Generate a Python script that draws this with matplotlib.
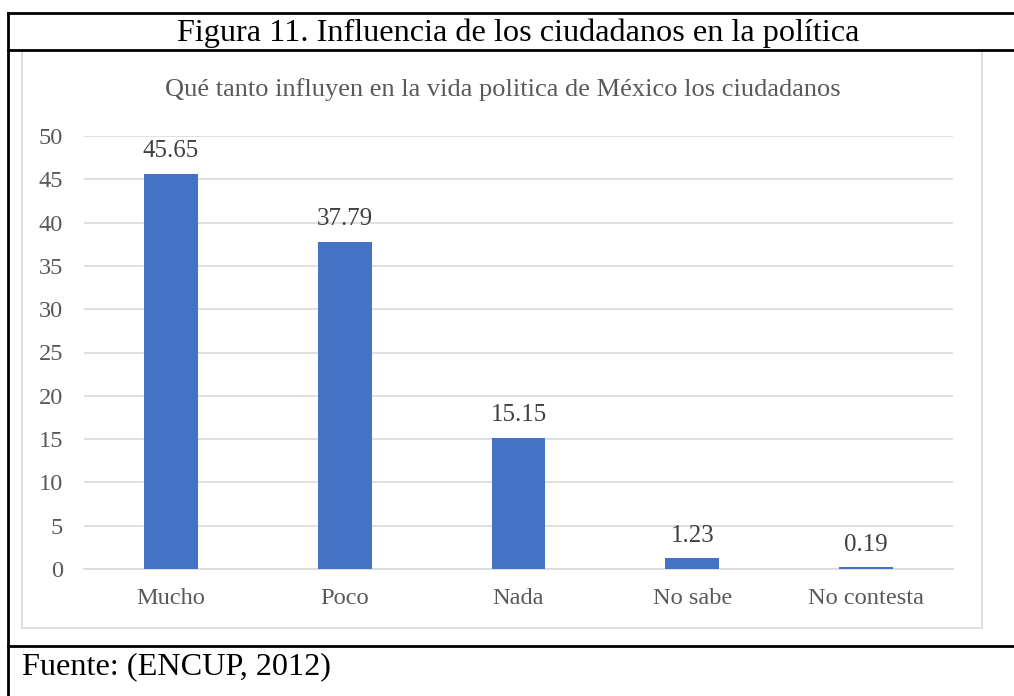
import matplotlib
matplotlib.use("Agg")
import matplotlib.pyplot as plt
from matplotlib.lines import Line2D
from matplotlib.patches import Rectangle

categories = ["Mucho", "Poco", "Nada", "No sabe", "No contesta"]
values = [45.65, 37.79, 15.15, 1.23, 0.19]
value_labels = ["45.65", "37.79", "15.15", "1.23", "0.19"]
yticks = [0, 5, 10, 15, 20, 25, 30, 35, 40, 45, 50]

W, H = 1014, 696
plt.rcParams['font.family'] = ['Liberation Serif', 'DejaVu Serif']
fig = plt.figure(figsize=(W/100, H/100), dpi=100)

def fx(x): return x / W
def fy(y): return 1 - y / H

# outer table lines
lw = 2.0
fig.add_artist(Line2D([fx(8), fx(8)], [fy(13), fy(696)], color='black', lw=lw))
fig.add_artist(Line2D([fx(8), 1], [fy(13), fy(13)], color='black', lw=lw))
fig.add_artist(Line2D([fx(8), 1], [fy(50), fy(50)], color='black', lw=lw))
fig.add_artist(Line2D([fx(8), 1], [fy(646), fy(646)], color='black', lw=lw))

# chart frame
fig.add_artist(Rectangle((fx(22), fy(628)), fx(982) - fx(22), fy(51) - fy(628),
                         fill=False, edgecolor='#d9d9d9', lw=1.2))

fig.text(fx(518), fy(33.5), "Figura 11. Influencia de los ciudadanos en la política",
         ha='center', va='center', fontsize=23.2, color='black')
fig.text(fx(503), fy(90), "Qué tanto influyen en la vida politica de México los ciudadanos",
         ha='center', va='center', fontsize=19, color='#595959')
fig.text(fx(22), fy(667), "Fuente: (ENCUP, 2012)", ha='left', va='center',
         fontsize=23.2, color='black')

ax = fig.add_axes([fx(84), fy(569), fx(953) - fx(84), fy(136) - fy(569)])
x = list(range(len(categories)))
ax.bar(x, values, width=0.31, color='#4472C4', zorder=3)
ax.set_xlim(-0.5, len(categories) - 0.5)
ax.set_ylim(0, 50)
ax.set_yticks(yticks)
ax.set_yticklabels([str(t) for t in yticks])
ax.set_xticks(x)
ax.set_xticklabels(categories)
ax.grid(axis='y', color='#d9d9d9', lw=1.2, zorder=0)
for s in ['top', 'right', 'left']:
    ax.spines[s].set_visible(False)
ax.spines['bottom'].set_color('#d9d9d9')
ax.spines['bottom'].set_linewidth(1.2)
ax.tick_params(axis='both', length=0, labelsize=17.6, colors='#595959')
ax.tick_params(axis='y', pad=15)
ax.tick_params(axis='x', pad=14)
for xi, v, lab in zip(x, values, value_labels):
    ax.annotate(lab, (xi, v), xytext=(0, 8.5), textcoords='offset points',
                ha='center', va='bottom', fontsize=18, color='#404040')

fig.savefig("out.png", dpi=100)
